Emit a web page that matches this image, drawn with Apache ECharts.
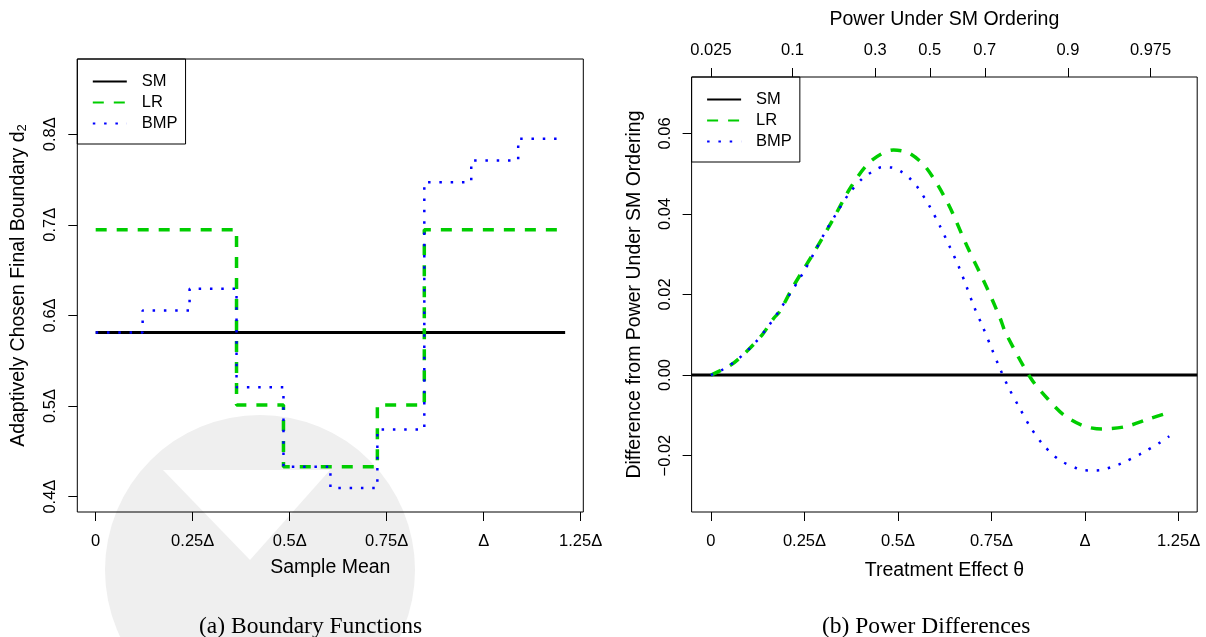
<!DOCTYPE html>
<html>
<head>
<meta charset="utf-8">
<script src="https://cdn.jsdelivr.net/npm/echarts@6/dist/echarts.min.js"></script>
<style>
  html, body { margin: 0; padding: 0; background: #fff; }
  #chart { width: 1206px; height: 637px; }
</style>
</head>
<body>
<div id="chart"></div>
<script>
// (a) boundary functions: step breakpoints on the sample mean axis (units of Delta)
const stepX = [0, 0.121, 0.242, 0.363, 0.484, 0.605, 0.726, 0.847, 0.968, 1.089, 1.21];
const smLevels = [0.581, 0.581, 0.581, 0.581, 0.581, 0.581, 0.581, 0.581, 0.581, 0.581];
const lrLevels = [0.6945, 0.6945, 0.6945, 0.501, 0.433, 0.433, 0.501, 0.6945, 0.6945, 0.6945];
const bmpLevels = [0.581, 0.6055, 0.6295, 0.5206, 0.433, 0.4095, 0.474, 0.747, 0.771, 0.795];

// (b) power differences vs treatment effect theta
const lrTheta = [0, 0.055, 0.096, 0.137, 0.168, 0.184, 0.22, 0.277, 0.323, 0.375, 0.426, 0.488, 0.53, 0.576, 0.633, 0.685, 0.736, 0.773, 0.788, 0.855, 0.902, 0.943, 0.995, 1.046, 1.108, 1.17, 1.224];
const lrDiff = [0, 0.0026, 0.0059, 0.0100, 0.0141, 0.0158, 0.0220, 0.0307, 0.0381, 0.0468, 0.0530, 0.0559, 0.0551, 0.0514, 0.0427, 0.0319, 0.0220, 0.0141, 0.0104, -0.0008, -0.0061, -0.0099, -0.0126, -0.0134, -0.0128, -0.0109, -0.0093];
const bmpTheta = [0, 0.027, 0.073, 0.117, 0.154, 0.189, 0.251, 0.306, 0.336, 0.368, 0.406, 0.432, 0.457, 0.485, 0.512, 0.535, 0.554, 0.585, 0.612, 0.638, 0.662, 0.683, 0.703, 0.726, 0.749, 0.772, 0.796, 0.824, 0.853, 0.888, 0.93, 0.982, 1.011, 1.041, 1.069, 1.098, 1.15, 1.201, 1.225];
const bmpDiff = [0, 0.0011, 0.0040, 0.0079, 0.0122, 0.0169, 0.0261, 0.0356, 0.0402, 0.0449, 0.0489, 0.0505, 0.0516, 0.0515, 0.0503, 0.0485, 0.0464, 0.0418, 0.0370, 0.0319, 0.0270, 0.0220, 0.0170, 0.0121, 0.0069, 0.0017, -0.0032, -0.0080, -0.0128, -0.0173, -0.0210, -0.0233, -0.0237, -0.0236, -0.0229, -0.0219, -0.0195, -0.0167, -0.0152];
const smTheta = [-0.0516, 1.2996];
const smDiff = [0, 0];

// tick labels
const meanTicks = [0, 0.25, 0.5, 0.75, 1, 1.25];
const meanLabels = ['0', '0.25Δ', '0.5Δ', '0.75Δ', 'Δ', '1.25Δ'];
const boundTicks = [0.4, 0.5, 0.6, 0.7, 0.8];
const boundLabels = ['0.4Δ', '0.5Δ', '0.6Δ', '0.7Δ', '0.8Δ'];
const diffTicks = [-0.02, 0, 0.02, 0.04, 0.06];
const diffLabels = ['−0.02', '0.00', '0.02', '0.04', '0.06'];
const powerTicks = [0, 0.218, 0.439, 0.585, 0.732, 0.954, 1.175];
const powerLabels = ['0.025', '0.1', '0.3', '0.5', '0.7', '0.9', '0.975'];

const FONT = '"Liberation Sans", Arial, sans-serif';
const SERIF = '"Liberation Serif", "Times New Roman", serif';
const GREEN = '#00cd00';
const BLUE = '#0000ff';
const DASH = [11, 10];
const DOT = [2.5, 8.8];

const stepPoints = (levels) => {
  const pts = levels.map((y, i) => [stepX[i], y]);
  pts.push([stepX[stepX.length - 1], levels[levels.length - 1]]);
  return pts;
};
const zipPts = (xs, ys) => xs.map((x, i) => [x, ys[i]]);
const labelOf = (ticks, labels) => (v) => {
  const i = ticks.findIndex((t) => Math.abs(t - v) < 1e-9);
  return i >= 0 ? labels[i] : '';
};

const noLine = { show: false, onZero: false };
const tickStyle = (vals) => ({
  show: true, inside: false, length: 9, customValues: vals,
  lineStyle: { color: '#000', width: 1 },
});
const labelStyle = (vals, labels, margin, rotate) => ({
  show: true, customValues: vals, margin: margin, rotate: rotate || 0,
  formatter: labelOf(vals, labels),
  color: '#000', fontSize: 16.5, fontFamily: FONT,
});
const nameStyle = { color: '#000', fontSize: 19.5, fontFamily: FONT };

const legendBox = (left, top) => ({
  orient: 'vertical', left: left, top: top,
  data: ['SM', 'LR', 'BMP'],
  borderColor: '#000', borderWidth: 1, borderRadius: 0,
  padding: [14, 8, 12, 14.5],
  itemWidth: 34, itemHeight: 14, itemGap: 4,
  itemStyle: { opacity: 0 },
  textStyle: { color: '#000', fontSize: 16.5, fontFamily: FONT, padding: [0, 0, 0, 10] },
  selectedMode: false,
});

const chart = echarts.init(document.getElementById('chart'));
chart.setOption({
  animation: false,
  backgroundColor: '#fff',
  grid: [
    { left: 77.3, top: 59, width: 506, height: 453, show: true, borderColor: '#000', borderWidth: 1, outerBoundsMode: 'none' },
    { left: 691.6, top: 77, width: 505.6, height: 435, show: true, borderColor: '#000', borderWidth: 1, outerBoundsMode: 'none' },
  ],
  legend: [legendBox(77.3, 59), legendBox(691.6, 77)],
  xAxis: [
    {
      type: 'value', gridIndex: 0, min: -0.0474, max: 1.2568, position: 'bottom',
      splitLine: { show: false }, axisLine: noLine,
      axisTick: tickStyle(meanTicks), axisLabel: labelStyle(meanTicks, meanLabels, 21),
      name: 'Sample Mean', nameLocation: 'middle', nameGap: 46, nameTextStyle: nameStyle,
    },
    {
      type: 'value', gridIndex: 1, min: -0.0516, max: 1.2996, position: 'bottom',
      splitLine: { show: false }, axisLine: noLine,
      axisTick: tickStyle(meanTicks), axisLabel: labelStyle(meanTicks, meanLabels, 21),
      name: 'Treatment Effect θ', nameLocation: 'middle', nameGap: 49, nameTextStyle: nameStyle,
    },
    {
      type: 'value', gridIndex: 1, min: -0.0516, max: 1.2996, position: 'top',
      splitLine: { show: false }, axisLine: noLine,
      axisTick: tickStyle(powerTicks), axisLabel: labelStyle(powerTicks, powerLabels, 18),
      name: 'Power Under SM Ordering', nameLocation: 'middle', nameGap: 47, nameTextStyle: nameStyle,
    },
  ],
  yAxis: [
    {
      type: 'value', gridIndex: 0, min: 0.383, max: 0.883,
      splitLine: { show: false }, axisLine: noLine,
      axisTick: tickStyle(boundTicks), axisLabel: labelStyle(boundTicks, boundLabels, 18, 90),
      name: 'Adaptively Chosen Final Boundary d{sub|2}', nameLocation: 'middle', nameGap: 48,
      nameTextStyle: Object.assign({}, nameStyle, {
        rich: { sub: { fontSize: 13, fontFamily: FONT, color: '#000', verticalAlign: 'bottom', padding: [9, 0, 0, 0] } },
      }),
    },
    {
      type: 'value', gridIndex: 1, min: -0.034, max: 0.074,
      splitLine: { show: false }, axisLine: noLine,
      axisTick: tickStyle(diffTicks), axisLabel: labelStyle(diffTicks, diffLabels, 18, 90),
      name: 'Difference from Power Under SM Ordering', nameLocation: 'middle', nameGap: 47, nameTextStyle: nameStyle,
    },
  ],
  series: [
    {
      name: 'SM', type: 'line', xAxisIndex: 0, yAxisIndex: 0, step: 'end', symbol: 'none',
      data: stepPoints(smLevels), lineStyle: { color: '#000', width: 3 }, itemStyle: { color: '#000', opacity: 0 },
    },
    {
      name: 'LR', type: 'line', xAxisIndex: 0, yAxisIndex: 0, step: 'end', symbol: 'none',
      data: stepPoints(lrLevels), lineStyle: { color: GREEN, width: 3.5, type: DASH }, itemStyle: { color: GREEN, opacity: 0 },
    },
    {
      name: 'BMP', type: 'line', xAxisIndex: 0, yAxisIndex: 0, step: 'end', symbol: 'none',
      data: stepPoints(bmpLevels), lineStyle: { color: BLUE, width: 2.5, type: DOT }, itemStyle: { color: BLUE, opacity: 0 },
    },
    {
      name: 'SM', type: 'line', xAxisIndex: 1, yAxisIndex: 1, symbol: 'none',
      data: zipPts(smTheta, smDiff), lineStyle: { color: '#000', width: 3 }, itemStyle: { color: '#000', opacity: 0 },
    },
    {
      name: 'LR', type: 'line', xAxisIndex: 1, yAxisIndex: 1, symbol: 'none', smooth: 0.3,
      data: zipPts(lrTheta, lrDiff), lineStyle: { color: GREEN, width: 3.5, type: DASH }, itemStyle: { color: GREEN, opacity: 0 },
    },
    {
      name: 'BMP', type: 'line', xAxisIndex: 1, yAxisIndex: 1, symbol: 'none', smooth: 0.3,
      data: zipPts(bmpTheta, bmpDiff), lineStyle: { color: BLUE, width: 2.5, type: DOT }, itemStyle: { color: BLUE, opacity: 0 },
    },
  ],
  graphic: [
    // faint watermark logo behind the left panel
    { type: 'circle', z: -10, shape: { cx: 260, cy: 570, r: 155 }, style: { fill: '#efefef' } },
    { type: 'polygon', z: -9, shape: { points: [[163, 470], [330, 470], [250, 560]] }, style: { fill: '#ffffff' } },
    {
      type: 'text', x: 199, y: 627,
      style: { text: '(a) Boundary Functions', font: '23.5px ' + SERIF, fill: '#000', verticalAlign: 'middle' },
    },
    {
      type: 'text', x: 822, y: 627,
      style: { text: '(b) Power Differences', font: '23.5px ' + SERIF, fill: '#000', verticalAlign: 'middle' },
    },
  ],
});
</script>
</body>
</html>
